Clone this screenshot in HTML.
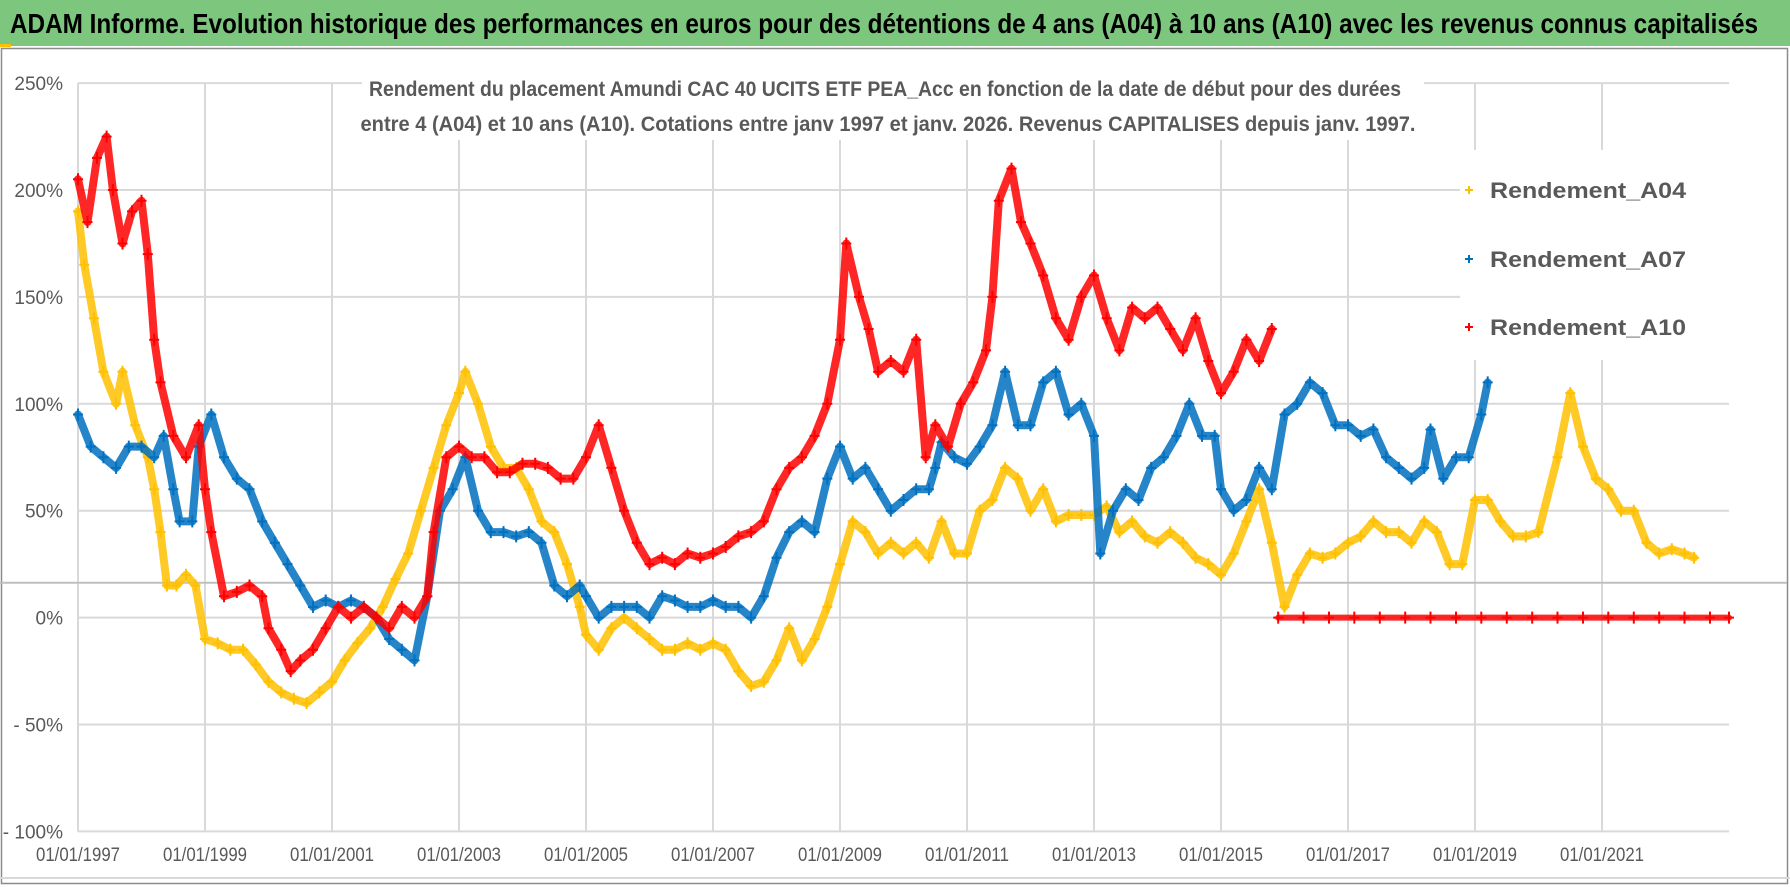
<!DOCTYPE html>
<html><head><meta charset="utf-8">
<style>
html,body{margin:0;padding:0;background:#fff;}
svg{display:block;}
text{font-family:"Liberation Sans",sans-serif;}
</style></head>
<body>
<svg id="chart" width="1790" height="887" viewBox="0 0 1790 887" xmlns="http://www.w3.org/2000/svg">
  <rect x="0" y="0" width="1790" height="887" fill="#fff"/>
  <rect x="0" y="0" width="1790" height="46" fill="#7DC67E"/>
  <rect x="0" y="44" width="11" height="3" fill="#FFC000"/>
  <text x="10" y="33" font-size="28" font-weight="bold" fill="#000" textLength="1748" lengthAdjust="spacingAndGlyphs">ADAM Informe. Evolution historique des performances en euros pour des détentions de 4 ans (A04) à 10 ans (A10) avec les revenus connus capitalisés</text>
  <rect x="1.5" y="48.5" width="1786" height="835" fill="none" stroke="#8c8c8c" stroke-width="1.5"/>
  <line x1="0" y1="878" x2="1790" y2="878" stroke="#d9d9d9" stroke-width="2"/>
  <g id="grid"></g>
  <g id="series"></g>
  <rect x="362" y="68" width="1062" height="72" fill="#fff"/>
  <text x="885" y="96" text-anchor="middle" font-size="21" font-weight="bold" fill="#595959" textLength="1032" lengthAdjust="spacingAndGlyphs">Rendement du placement Amundi CAC 40 UCITS ETF PEA_Acc en fonction de la date de début pour des durées</text>
  <text x="888" y="131" text-anchor="middle" font-size="21" font-weight="bold" fill="#595959" textLength="1055" lengthAdjust="spacingAndGlyphs">entre 4 (A04) et 10 ans (A10).  Cotations entre janv 1997 et janv. 2026. Revenus CAPITALISES depuis janv. 1997.</text>
  <rect x="1460" y="150" width="275" height="210" fill="#fff"/>
  <g>
    <g>
      <path d="M1465 190h8M1469 186v8" stroke="#FFC000" stroke-width="2"/>
      <text x="1490" y="198" font-size="22" font-weight="bold" fill="#595959" textLength="196" lengthAdjust="spacingAndGlyphs">Rendement_A04</text>
    </g>
    <g>
      <path d="M1465 259h8M1469 255v8" stroke="#0070C0" stroke-width="2"/>
      <text x="1490" y="267" font-size="22" font-weight="bold" fill="#595959" textLength="196" lengthAdjust="spacingAndGlyphs">Rendement_A07</text>
    </g>
    <g>
      <path d="M1465 327h8M1469 323v8" stroke="#FF0000" stroke-width="2"/>
      <text x="1490" y="335" font-size="22" font-weight="bold" fill="#595959" textLength="196" lengthAdjust="spacingAndGlyphs">Rendement_A10</text>
    </g>
  </g>
  <g id="axes"></g>
</svg>
<script>
const yTicks = [-100,-50,0,50,100,150,200,250];
const yTickLabels = ["- 100%","- 50%","0%","50%","100%","150%","200%","250%"];
const xTicks = [1997,1999,2001,2003,2005,2007,2009,2011,2013,2015,2017,2019,2021];
const xTickLabels = ["01/01/1997","01/01/1999","01/01/2001","01/01/2003","01/01/2005","01/01/2007","01/01/2009","01/01/2011","01/01/2013","01/01/2015","01/01/2017","01/01/2019","01/01/2021"];
const refLineValue = 16.3;

const a04Dates = [1997.0,1997.1,1997.25,1997.4,1997.6,1997.7,1997.9,1998.1,1998.2,1998.3,1998.4,1998.55,1998.7,1998.85,1999.0,1999.2,1999.4,1999.6,1999.8,2000.0,2000.2,2000.4,2000.6,2000.8,2001.0,2001.2,2001.4,2001.6,2001.8,2002.0,2002.2,2002.4,2002.6,2002.8,2003.0,2003.1,2003.3,2003.5,2003.7,2003.9,2004.1,2004.3,2004.5,2004.7,2004.9,2005.0,2005.2,2005.4,2005.6,2005.8,2006.0,2006.2,2006.4,2006.6,2006.8,2007.0,2007.2,2007.4,2007.6,2007.8,2008.0,2008.2,2008.4,2008.6,2008.8,2009.0,2009.2,2009.4,2009.6,2009.8,2010.0,2010.2,2010.4,2010.6,2010.8,2011.0,2011.2,2011.4,2011.6,2011.8,2012.0,2012.2,2012.4,2012.6,2012.8,2013.0,2013.2,2013.4,2013.6,2013.8,2014.0,2014.2,2014.4,2014.6,2014.8,2015.0,2015.2,2015.4,2015.6,2015.8,2016.0,2016.2,2016.4,2016.6,2016.8,2017.0,2017.2,2017.4,2017.6,2017.8,2018.0,2018.2,2018.4,2018.6,2018.8,2019.0,2019.2,2019.4,2019.6,2019.8,2020.0,2020.3,2020.5,2020.7,2020.9,2021.1,2021.3,2021.5,2021.7,2021.9,2022.1,2022.3,2022.45];
const a04Values = [190,165,140,115,100,115,90,75,60,40,15,15,20,15,-10,-12,-15,-15,-22,-30,-35,-38,-40,-35,-30,-20,-12,-5,5,18,30,50,70,90,105,115,100,80,70,70,60,45,40,25,5,-8,-15,-5,0,-5,-10,-15,-15,-12,-15,-12,-15,-25,-32,-30,-20,-5,-20,-10,5,25,45,40,30,35,30,35,28,45,30,30,50,55,70,65,50,60,45,48,48,48,52,40,45,38,35,40,35,28,25,20,30,45,60,35,5,20,30,28,30,35,38,45,40,40,35,45,40,25,25,55,55,45,38,38,40,75,105,80,65,60,50,50,35,30,32,30,28];

const a07Dates = [1997.0,1997.2,1997.4,1997.6,1997.8,1998.0,1998.2,1998.35,1998.5,1998.6,1998.8,1998.9,1999.1,1999.3,1999.5,1999.7,1999.9,2000.1,2000.3,2000.5,2000.7,2000.9,2001.1,2001.3,2001.5,2001.7,2001.9,2002.1,2002.3,2002.5,2002.7,2002.9,2003.1,2003.3,2003.5,2003.7,2003.9,2004.1,2004.3,2004.5,2004.7,2004.9,2005.0,2005.2,2005.4,2005.6,2005.8,2006.0,2006.2,2006.4,2006.6,2006.8,2007.0,2007.2,2007.4,2007.6,2007.8,2008.0,2008.2,2008.4,2008.6,2008.8,2009.0,2009.2,2009.4,2009.6,2009.8,2010.0,2010.2,2010.4,2010.5,2010.6,2010.8,2011.0,2011.2,2011.4,2011.6,2011.8,2012.0,2012.2,2012.4,2012.6,2012.8,2013.0,2013.1,2013.3,2013.5,2013.7,2013.9,2014.1,2014.3,2014.5,2014.7,2014.9,2015.0,2015.2,2015.4,2015.6,2015.8,2016.0,2016.2,2016.4,2016.6,2016.8,2017.0,2017.2,2017.4,2017.6,2017.8,2018.0,2018.2,2018.3,2018.5,2018.7,2018.9,2019.1,2019.2];
const a07Values = [95,80,75,70,80,80,75,85,60,45,45,80,95,75,65,60,45,35,25,15,5,8,5,8,5,0,-10,-15,-20,10,50,60,75,50,40,40,38,40,35,15,10,15,10,0,5,5,5,0,10,8,5,5,8,5,5,0,10,28,40,45,40,65,80,65,70,60,50,55,60,60,70,82,75,72,80,90,115,90,90,110,115,95,100,85,30,50,60,55,70,75,85,100,85,85,60,50,55,70,60,95,100,110,105,90,90,85,88,75,70,65,70,88,65,75,75,95,110];

const a10Dates = [1997.0,1997.15,1997.3,1997.45,1997.55,1997.7,1997.85,1998.0,1998.1,1998.2,1998.3,1998.5,1998.7,1998.9,1999.0,1999.1,1999.3,1999.5,1999.7,1999.9,2000.0,2000.2,2000.35,2000.5,2000.7,2000.9,2001.1,2001.3,2001.5,2001.7,2001.9,2002.1,2002.3,2002.5,2002.6,2002.8,2003.0,2003.2,2003.4,2003.6,2003.8,2004.0,2004.2,2004.4,2004.6,2004.8,2005.0,2005.2,2005.4,2005.6,2005.8,2006.0,2006.2,2006.4,2006.6,2006.8,2007.0,2007.2,2007.4,2007.6,2007.8,2008.0,2008.2,2008.4,2008.6,2008.8,2009.0,2009.1,2009.3,2009.45,2009.6,2009.8,2010.0,2010.2,2010.35,2010.5,2010.7,2010.9,2011.1,2011.3,2011.4,2011.5,2011.7,2011.85,2012.0,2012.2,2012.4,2012.6,2012.8,2013.0,2013.2,2013.4,2013.6,2013.8,2014.0,2014.2,2014.4,2014.6,2014.8,2015.0,2015.2,2015.4,2015.6,2015.8];
const a10Values = [205,185,215,225,200,175,190,195,170,130,110,85,75,90,60,40,10,12,15,10,-5,-15,-25,-20,-15,-5,5,0,5,0,-5,5,0,10,40,75,80,75,75,68,68,72,72,70,65,65,75,90,70,50,35,25,28,25,30,28,30,33,38,40,45,60,70,75,85,100,130,175,150,135,115,120,115,130,75,90,80,100,110,125,150,195,210,185,175,160,140,130,150,160,140,125,145,140,145,135,125,140,120,105,115,130,120,135];
const a10ZeroDates = [2015.9,2016.3,2016.7,2017.1,2017.5,2017.9,2018.3,2018.7,2019.1,2019.5,2019.9,2020.3,2020.7,2021.1,2021.5,2021.9,2022.3,2022.7,2023.0];
const a10ZeroValues = [0,0,0,0,0,0,0,0,0,0,0,0,0,0,0,0,0,0,0];

const NS = "http://www.w3.org/2000/svg";
const X0 = 78, X1 = 1729, Y0 = 617.6, PXPCT = 2.138;
function xScale(yr){ return X0 + (yr - 1997) * (X1 - X0) / 26; }
function yScale(p){ return Y0 - p * PXPCT; }

const grid = document.getElementById('grid');
const axes = document.getElementById('axes');
const seriesLayer = document.getElementById('series');

yTicks.forEach((t, i) => {
  const ln = document.createElementNS(NS, 'line');
  ln.setAttribute('x1', X0); ln.setAttribute('x2', X1);
  ln.setAttribute('y1', yScale(t)); ln.setAttribute('y2', yScale(t));
  ln.setAttribute('stroke', '#d9d9d9'); ln.setAttribute('stroke-width', '2');
  
  
  grid.appendChild(ln);
  const tx = document.createElementNS(NS, 'text');
  tx.setAttribute('x', 63); tx.setAttribute('y', yScale(t) + 7);
  tx.setAttribute('text-anchor', 'end'); tx.setAttribute('font-size', '19');
  tx.setAttribute('fill', '#595959');
  tx.textContent = yTickLabels[i];
  
  
  axes.appendChild(tx);
});
xTicks.forEach((t, i) => {
  const ln = document.createElementNS(NS, 'line');
  ln.setAttribute('x1', xScale(t)); ln.setAttribute('x2', xScale(t));
  ln.setAttribute('y1', yScale(250)); ln.setAttribute('y2', yScale(-100));
  ln.setAttribute('stroke', '#d9d9d9'); ln.setAttribute('stroke-width', '2');
  
  
  grid.appendChild(ln);
  const tx = document.createElementNS(NS, 'text');
  tx.setAttribute('x', xScale(t)); tx.setAttribute('y', 861);
  tx.setAttribute('text-anchor', 'middle'); tx.setAttribute('font-size', '19');
  tx.setAttribute('fill', '#595959');
  tx.setAttribute('textLength', '84'); tx.setAttribute('lengthAdjust', 'spacingAndGlyphs');
  tx.textContent = xTickLabels[i];
  
  
  axes.appendChild(tx);
});
const ref = document.createElementNS(NS, 'line');
ref.setAttribute('x1', 0); ref.setAttribute('x2', 1787);
ref.setAttribute('y1', yScale(refLineValue)); ref.setAttribute('y2', yScale(refLineValue));
ref.setAttribute('stroke', '#bfbfbf'); ref.setAttribute('stroke-width', '2');


grid.appendChild(ref);

function drawSeries(dates, vals, color, name, band){
  const g = document.createElementNS(NS, 'g');
  
  
  const pts = dates.map((d, i) => xScale(d).toFixed(1) + ',' + yScale(vals[i]).toFixed(1)).join(' ');
  const pl = document.createElementNS(NS, 'polyline');
  pl.setAttribute('points', pts);
  pl.setAttribute('fill', 'none'); pl.setAttribute('stroke', color);
  pl.setAttribute('stroke-width', band); pl.setAttribute('stroke-linejoin', 'round');
  pl.setAttribute('stroke-linecap', 'round'); pl.setAttribute('opacity', '0.85');
  
  
  g.appendChild(pl);
  let d = '';
  dates.forEach((dt, i) => {
    const x = xScale(dt), y = yScale(vals[i]);
    d += 'M' + (x - 5).toFixed(1) + ' ' + y.toFixed(1) + 'h10M' + x.toFixed(1) + ' ' + (y - 6).toFixed(1) + 'v12';
  });
  const mk = document.createElementNS(NS, 'path');
  mk.setAttribute('d', d); mk.setAttribute('stroke', color); mk.setAttribute('stroke-width', '2');
  
  
  g.appendChild(mk);
  seriesLayer.appendChild(g);
}
drawSeries(a04Dates, a04Values, '#FFC000', 'series-a04', 8);
drawSeries(a07Dates, a07Values, '#0070C0', 'series-a07', 8);
drawSeries(a10Dates, a10Values, '#FF0000', 'series-a10', 8);
drawSeries(a10ZeroDates, a10ZeroValues, '#FF0000', 'series-a10-zero', 6);
</script>
</body></html>
